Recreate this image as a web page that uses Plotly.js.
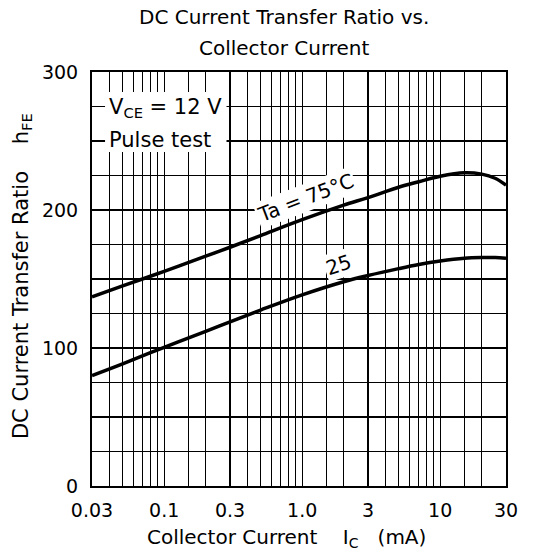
<!DOCTYPE html>
<html>
<head>
<meta charset="utf-8">
<script src="https://cdn.plot.ly/plotly-3.0.1.min.js"></script>
<style>
  html, body { margin: 0; padding: 0; background: #fff; }
  #chart { width: 534px; height: 560px; }
</style>
</head>
<body>
<div id="chart"></div>
<script>
// ---- data ----
const collectorCurrent = [0.03, 0.05, 0.1, 0.2, 0.3, 0.5, 1, 2, 3, 5, 7, 10, 15, 20, 25, 30];
const hfe75 = [137, 145, 155.5, 166.5, 173, 181.5, 193, 203.5, 209, 216.5, 220.5, 224.5, 227, 226, 223, 218];
const hfe25 = [80, 88.5, 100.5, 112, 119, 127.5, 138.5, 148, 152.5, 157.5, 160.5, 163, 165, 165.5, 165.5, 165];

const xGridVals = [0.03, 0.04, 0.05, 0.06, 0.07, 0.08, 0.09, 0.1, 0.15, 0.2, 0.3, 0.4, 0.5, 0.6, 0.7, 0.8, 0.9,
                   1, 1.5, 2, 3, 4, 5, 6, 7, 8, 9, 10, 15, 20, 30];
const xLabelVals = [0.03, 0.1, 0.3, 1, 3, 10, 30];
const xLabelText = ['0.03', '0.1', '0.3', '1.0', '3', '10', '30'];

const yGridVals = [0, 25, 50, 75, 100, 125, 150, 175, 200, 225, 250, 275, 300];
const yLabelVals = [0, 100, 200, 300];
const yLabelText = ['0', '100', '200', '300'];

const curveLabels = ['Ta = 75°C', '25'];

// ---- build ----
const FONT = 'DejaVu Sans, Liberation Sans, Arial, sans-serif';
const xText = xGridVals.map(v => { const i = xLabelVals.indexOf(v); return i >= 0 ? xLabelText[i] : ''; });
const yText = yGridVals.map(v => { const i = yLabelVals.indexOf(v); return i >= 0 ? yLabelText[i] : ''; });

const traces = [
  { x: collectorCurrent, y: hfe75, type: 'scatter', mode: 'lines',
    line: { color: '#000', width: 3.5, shape: 'spline', smoothing: 1 }, hoverinfo: 'skip' },
  { x: collectorCurrent, y: hfe25, type: 'scatter', mode: 'lines',
    line: { color: '#000', width: 3.5, shape: 'spline', smoothing: 1 }, hoverinfo: 'skip' }
];

const layout = {
  width: 534, height: 560,
  margin: { l: 92, r: 28, t: 72, b: 74 },
  paper_bgcolor: '#fff', plot_bgcolor: '#fff',
  showlegend: false,
  font: { family: FONT, size: 19, color: '#000' },
  xaxis: {
    type: 'log',
    range: [Math.log10(0.03), Math.log10(30)],
    tickmode: 'array', tickvals: xGridVals, ticktext: xText,
    showgrid: true, gridcolor: '#000', gridwidth: 1.3,
    showline: true, linecolor: '#000', linewidth: 2, mirror: true,
    ticks: '', ticklabelstandoff: 6,
    zeroline: false, fixedrange: true,
    tickfont: { family: FONT, size: 19, color: '#000' }
  },
  yaxis: {
    range: [0, 300],
    tickmode: 'array', tickvals: yGridVals, ticktext: yText,
    showgrid: true, gridcolor: '#000', gridwidth: 1.3,
    showline: true, linecolor: '#000', linewidth: 2, mirror: true,
    ticks: '', ticklabelstandoff: 8,
    zeroline: false, fixedrange: true,
    tickfont: { family: FONT, size: 19, color: '#000' }
  },
  shapes: [
    { type: 'rect', xref: 'x', yref: 'y', layer: 'above',
      x0: 0.0373, x1: 0.283, y0: 242, y1: 285.5,
      fillcolor: '#fff', line: { width: 0 } }
  ],
  annotations: [
    { xref: 'paper', yref: 'paper', x: 0.464, y: 1, yshift: 55, xanchor: 'center', yanchor: 'middle',
      text: 'DC Current Transfer Ratio vs.', showarrow: false, font: { size: 20 } },
    { xref: 'paper', yref: 'paper', x: 0.464, y: 1, yshift: 24, xanchor: 'center', yanchor: 'middle',
      text: 'Collector Current', showarrow: false, font: { size: 20 } },
    { xref: 'paper', yref: 'paper', x: 0.47, y: 0, yshift: -52, xanchor: 'center', yanchor: 'middle',
      text: 'Collector Current    I<sub>C</sub>   (mA)', showarrow: false, font: { size: 20 } },
    { xref: 'paper', yref: 'paper', x: 0, xshift: -70, y: 0.507, xanchor: 'center', yanchor: 'middle',
      textangle: -90, text: 'DC Current Transfer Ratio    h<sub>FE</sub>', showarrow: false, font: { size: 21 } },
    { xref: 'x', yref: 'y', x: Math.log10(0.0385), y: 274, xanchor: 'left', yanchor: 'middle',
      text: 'V<sub>CE</sub> = 12 V', showarrow: false, font: { size: 21 } },
    { xref: 'x', yref: 'y', x: Math.log10(0.0385), y: 251, xanchor: 'left', yanchor: 'middle',
      text: 'Pulse test', showarrow: false, font: { size: 21 } },
    { xref: 'x', yref: 'y', x: Math.log10(1.05), y: 209, xanchor: 'center', yanchor: 'middle',
      text: curveLabels[0], textangle: -21, bgcolor: '#fff', borderpad: 1,
      showarrow: false, font: { size: 20 } },
    { xref: 'x', yref: 'y', x: Math.log10(1.82), y: 160, xanchor: 'center', yanchor: 'middle',
      text: curveLabels[1], textangle: -18, bgcolor: '#fff', borderpad: 1,
      showarrow: false, font: { size: 20 } }
  ]
};

Plotly.newPlot('chart', traces, layout, { staticPlot: true, displayModeBar: false });
</script>
</body>
</html>
